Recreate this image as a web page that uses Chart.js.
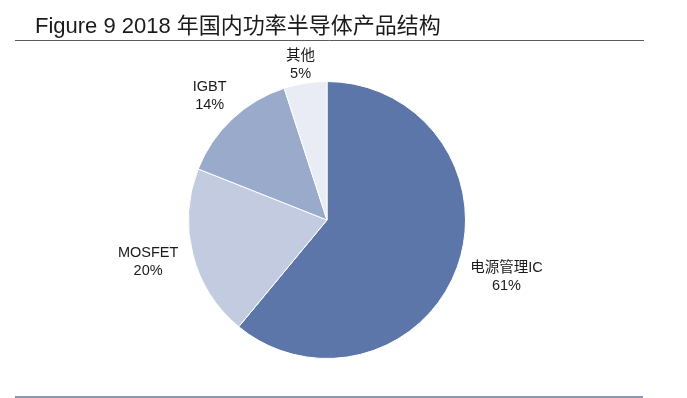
<!DOCTYPE html>
<html>
<head>
<meta charset="utf-8">
<script src="https://cdn.jsdelivr.net/npm/chart.js@4.4.1/dist/chart.umd.min.js"></script>
<style>
  html, body { margin: 0; padding: 0; background: #ffffff; }
  #wrap { position: relative; width: 687px; height: 398px; }
</style>
</head>
<body>
<div id="wrap"><canvas id="c" width="687" height="398"></canvas></div>
<script>
const titleText = "Figure 9 2018 年国内功率半导体产品结构";
const categories = ["电源管理IC", "MOSFET", "IGBT", "其他"];
const shares = [61, 20, 14, 5];
const sliceColors = ["#5d76a9", "#c2cbe0", "#9aaaca", "#e9ecf4"];

const FONT_LATIN = "'Liberation Sans', Arial, 'Noto Sans CJK SC', sans-serif";

const decorPlugin = {
  id: 'decor',
  afterDraw(chart) {
    const ctx = chart.ctx;
    ctx.save();
    // title
    ctx.fillStyle = '#1a1a1a';
    ctx.font = "22px " + FONT_LATIN;
    ctx.textAlign = 'left';
    ctx.textBaseline = 'alphabetic';
    ctx.fillText(titleText, 35, 33);
    // top rule
    ctx.strokeStyle = '#5a5a5a';
    ctx.lineWidth = 1;
    ctx.beginPath();
    ctx.moveTo(15, 40.5);
    ctx.lineTo(644, 40.5);
    ctx.stroke();
    // bottom rule
    ctx.strokeStyle = '#8c98ae';
    ctx.lineWidth = 2;
    ctx.beginPath();
    ctx.moveTo(15, 397);
    ctx.lineTo(643, 397);
    ctx.stroke();

    // slice labels (outside end, kept inside the chart area)
    const meta = chart.getDatasetMeta(0);
    ctx.font = "14.5px " + FONT_LATIN;
    ctx.fillStyle = '#1a1a1a';
    ctx.textAlign = 'center';
    ctx.textBaseline = 'middle';
    const minTop = 48;
    meta.data.forEach((arc, i) => {
      const p = arc.getProps(['x', 'y', 'startAngle', 'endAngle', 'outerRadius'], true);
      const mid = (p.startAngle + p.endAngle) / 2;
      const cosA = Math.cos(mid), sinA = Math.sin(mid);
      const line1 = categories[i];
      const line2 = shares[i] + '%';
      const halfW = Math.max(ctx.measureText(line1).width, ctx.measureText(line2).width) / 2;
      const halfH = 15;
      const d = p.outerRadius + 16;
      const cx = p.x + d * cosA + halfW * cosA;
      let cy = p.y + (d + halfH) * sinA;
      if (cy - 17 < minTop) cy = minTop + 17;
      ctx.fillText(line1, cx, cy - 9);
      ctx.fillText(line2, cx, cy + 9);
    });
    ctx.restore();
  }
};

new Chart(document.getElementById('c'), {
  type: 'pie',
  data: {
    labels: categories,
    datasets: [{
      data: shares,
      backgroundColor: sliceColors,
      borderColor: '#ffffff',
      borderWidth: 1
    }]
  },
  options: {
    responsive: false,
    animation: false,
    events: [],
    layout: { padding: { top: 81, bottom: 39, left: 188, right: 221 } },
    plugins: {
      legend: { display: false },
      title: { display: false },
      tooltip: { enabled: false }
    }
  },
  plugins: [decorPlugin]
});
</script>
</body>
</html>
